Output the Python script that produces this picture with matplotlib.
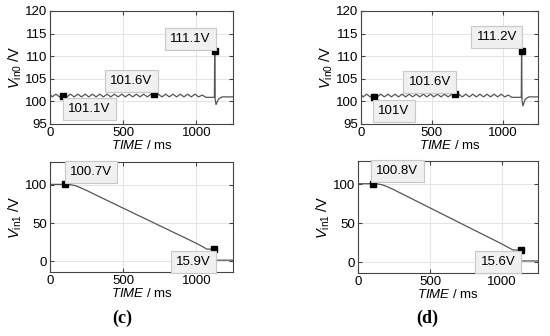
import numpy as np
import matplotlib
matplotlib.use("Agg")
import matplotlib.pyplot as plt

plt.rcParams['font.family'] = ['Liberation Sans', 'DejaVu Sans']
plt.rcParams['mathtext.fontset'] = 'custom'
plt.rcParams['mathtext.rm'] = 'Liberation Sans'
plt.rcParams['mathtext.it'] = 'Liberation Sans:italic'
plt.rcParams['font.size'] = 9

# ---- data (c) ----
t_c0 = [0, 15, 40, 65, 90, 115, 140, 165, 190, 215, 240, 265, 290, 315, 340, 365,
        390, 415, 440, 465, 490, 515, 540, 565, 590, 615, 640, 665, 690, 715, 740,
        765, 790, 815, 840, 865, 890, 915, 940, 965, 990, 1015, 1040, 1065, 1123,
        1125, 1128, 1134, 1150, 1175, 1250]
v_c0 = [101.6, 101.0, 101.6, 101.0, 101.6, 101.0, 101.6, 101.0, 101.6, 101.0, 101.6,
        101.0, 101.6, 101.0, 101.6, 101.0, 101.6, 101.0, 101.6, 101.0, 101.6, 101.0,
        101.6, 101.0, 101.6, 101.0, 101.6, 101.0, 101.6, 101.0, 101.6, 101.0, 101.6,
        101.0, 101.6, 101.0, 101.6, 101.0, 101.6, 101.0, 101.6, 101.0, 101.4, 100.9,
        100.9, 111.1, 100.5, 99.3, 100.5, 101.0, 101.0]
mk_c0_t = [86, 709, 1125]
mk_c0_v = [101.1, 101.6, 111.1]
lab_c0 = ['101.1V', '101.6V', '111.1V']
lab_c0_pos = [(267, 98.3), (555, 104.5), (959, 113.8)]

t_c1 = [0, 100, 140, 170, 200, 250, 300, 350, 400, 450, 500, 550, 600, 650, 700,
        750, 800, 850, 900, 950, 1000, 1040, 1070, 1123, 1125, 1250]
v_c1 = [100.7, 100.7, 100.3, 99.2, 97.0, 92.8, 88.0, 83.5, 78.8, 74.2, 69.5, 65.0,
        60.3, 55.8, 51.2, 46.5, 42.0, 37.3, 32.8, 28.2, 23.5, 19.5, 16.0, 15.9, 1.5, 1.5]
mk_c1_t = [100, 1123]
mk_c1_v = [100.7, 15.9]
lab_c1 = ['100.7V', '15.9V']
lab_c1_pos = [(281, 117), (979, -1)]

# ---- data (d) ----
t_d0 = [0, 15, 40, 65, 90, 115, 140, 165, 190, 215, 240, 265, 290, 315, 340, 365,
        390, 415, 440, 465, 490, 515, 540, 565, 590, 615, 640, 665, 690, 715, 740,
        765, 790, 815, 840, 865, 890, 915, 940, 965, 990, 1015, 1040, 1065, 1132,
        1134, 1137, 1143, 1160, 1185, 1250]
v_d0 = [101.5, 101.0, 101.6, 101.0, 101.6, 101.0, 101.6, 101.0, 101.6, 101.0, 101.6,
        101.0, 101.6, 101.0, 101.6, 101.0, 101.6, 101.0, 101.6, 101.0, 101.6, 101.0,
        101.6, 101.0, 101.6, 101.0, 101.6, 101.0, 101.6, 101.0, 101.6, 101.0, 101.6,
        101.0, 101.6, 101.0, 101.6, 101.0, 101.6, 101.0, 101.6, 101.0, 101.4, 100.9,
        100.9, 111.2, 100.4, 99.0, 100.5, 101.0, 101.0]
mk_d0_t = [89, 663, 1134]
mk_d0_v = [101.0, 101.6, 111.2]
lab_d0 = ['101V', '101.6V', '111.2V']
lab_d0_pos = [(232, 97.9), (486, 104.3), (958, 114.2)]

t_d1 = [0, 100, 140, 170, 200, 250, 300, 350, 400, 450, 500, 550, 600, 650, 700,
        750, 800, 850, 900, 950, 1000, 1040, 1075, 1131, 1133, 1250]
v_d1 = [100.8, 100.8, 100.4, 99.3, 97.2, 93.0, 88.3, 83.7, 79.0, 74.4, 69.7, 65.1,
        60.4, 55.8, 51.1, 46.5, 41.8, 37.2, 32.5, 27.9, 23.2, 19.2, 15.7, 15.6, 1.5, 1.5]
mk_d1_t = [102, 1131]
mk_d1_v = [100.8, 15.6]
lab_d1 = ['100.8V', '15.6V']
lab_d1_pos = [(274, 117), (973, 0)]

line_col = '#555555'
box = dict(boxstyle='square,pad=0.4', fc='#f0f0f0', ec='#c8c8c8', lw=0.8)


def style(ax, ylim, yticks):
    ax.set_xlim(0, 1250)
    ax.set_ylim(*ylim)
    ax.set_xticks([0, 500, 1000])
    ax.set_yticks(yticks)
    ax.grid(True, color='#e4e4e4', lw=0.7)
    ax.set_axisbelow(True)
    ax.tick_params(direction='in', length=3, right=True, top=True, pad=2,
                   color='#444444', labelsize=9.5)
    for s in ax.spines.values():
        s.set_color('#444444')
        s.set_linewidth(0.8)
    ax.set_xlabel(r'$TIME$ / ms', labelpad=0, fontsize=9.5)


def panel(ax, t, v, mt, mv, labs, pos):
    ax.plot(t, v, color=line_col, lw=0.9)
    ax.plot(mt, mv, 's', color='black', ms=4)
    for s, (x, y) in zip(labs, pos):
        ax.text(x, y, s, ha='center', va='center', fontsize=9.5, bbox=box)


fig = plt.figure(figsize=(5.5, 3.36), dpi=100)
W, H = 550.0, 336.0


def add_ax(l, r, t, b):
    return fig.add_axes([l / W, 1 - b / H, (r - l) / W, (b - t) / H])


ax1 = add_ax(50, 233, 11, 124)
ax2 = add_ax(361, 538, 11, 124)
ax3 = add_ax(50, 233, 162, 272)
ax4 = add_ax(358, 538, 161, 273)

panel(ax1, t_c0, v_c0, mk_c0_t, mk_c0_v, lab_c0, lab_c0_pos)
panel(ax2, t_d0, v_d0, mk_d0_t, mk_d0_v, lab_d0, lab_d0_pos)
panel(ax3, t_c1, v_c1, mk_c1_t, mk_c1_v, lab_c1, lab_c1_pos)
panel(ax4, t_d1, v_d1, mk_d1_t, mk_d1_v, lab_d1, lab_d1_pos)

for ax in (ax1, ax2):
    style(ax, (95, 120), [95, 100, 105, 110, 115, 120])
    ax.set_ylabel(r'$V_{\rm in0}$ /V', labelpad=1, fontsize=10.5)
for ax in (ax3, ax4):
    style(ax, (-14, 130), [0, 50, 100])
    ax.set_ylabel(r'$V_{\rm in1}$ /V', labelpad=1, fontsize=10.5)

fig.text(122 / W, 1 - 318 / H, '(c)', ha='center', va='center',
         fontsize=13, fontweight='bold', family='Liberation Serif')
fig.text(427 / W, 1 - 318 / H, '(d)', ha='center', va='center',
         fontsize=13, fontweight='bold', family='Liberation Serif')

fig.savefig('out.png', dpi=100)
